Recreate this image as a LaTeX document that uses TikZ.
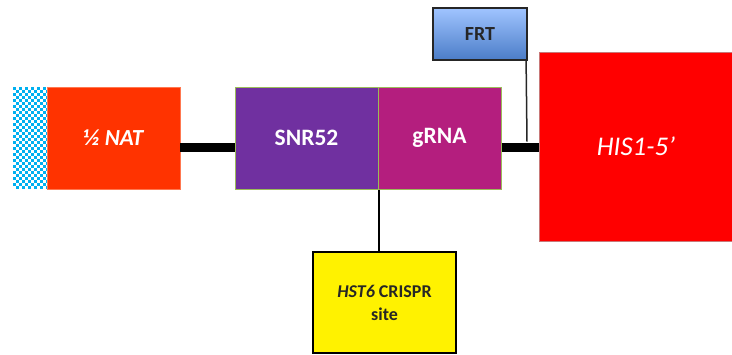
\documentclass[tikz,border=0pt]{standalone}
\usepackage{fontspec}
\setmainfont{Carlito}
\definecolor{chkblue}{RGB}{0,176,240}
\begin{document}
\begin{tikzpicture}[x=1pt,y=-1pt,
  blk/.style={rectangle,inner sep=0pt,anchor=center,align=center},
  bar/.style={line width=9pt,black},
  thin/.style={line width=1.5pt,black!85}]
\useasboundingbox (0,0) rectangle (732,354);
\begin{scope}
\clip (0,0) rectangle (732,354);
% checkered block
\node[blk,minimum width=34pt,minimum height=102pt,fill=white] (chk) at (30,138) {};
\foreach \i in {0,...,11}{
  \foreach \j in {0,...,33}{
    \pgfmathtruncatemacro\chkpar{mod(\i+\j,2)}
    \ifnum\chkpar=0
      \fill[chkblue] (13+3*\i,87+3*\j) rectangle ++(3,3);
    \fi
  }
}
\node[blk,minimum width=133pt,minimum height=102pt,fill={rgb,255:red,255;green,51;blue,0},draw={rgb,255:red,255;green,120;blue,80},line width=0.5pt,text=white,font=\fontsize{23}{27}\selectfont\bfseries\itshape] (nat) at (113.5,138) {½ NAT};
\node[blk,minimum width=143pt,minimum height=102pt,fill={rgb,255:red,112;green,48;blue,160},draw={rgb,255:red,155;green,187;blue,89},line width=1pt,text=white,font=\fontsize{23.5}{27}\selectfont\bfseries] (snr) at (306.5,138) {SNR52};
\node[blk,minimum width=123pt,minimum height=102pt,fill={rgb,255:red,180;green,30;blue,126},draw={rgb,255:red,155;green,187;blue,89},line width=1pt,text=white,font=\fontsize{23.5}{27}\selectfont\bfseries] (grna) at (439.5,138) {gRNA};
\node[blk,minimum width=94pt,minimum height=52pt,top color={rgb,255:red,160;green,196;blue,255},bottom color={rgb,255:red,75;green,125;blue,200},draw=black!85,line width=1.2pt,text=black!85,font=\fontsize{20}{24}\selectfont\bfseries] (frt) at (480,34) {FRT};
\node[blk,minimum width=194pt,minimum height=189pt,fill={rgb,255:red,255;green,0;blue,0},draw={rgb,255:red,200;green,120;blue,120},line width=0.6pt,text=white,font=\fontsize{27}{32}\selectfont\itshape] (his) at (636,146.5) {HIS1-5’};
\node[blk,minimum width=143pt,minimum height=101pt,fill=yellow,draw=black,line width=1.5pt,text=black!85,font=\fontsize{18}{23}\selectfont\bfseries] (hst) at (384.5,302.5) {\textit{HST6} CRISPR\\site};
% connectors
\draw[bar] ([yshift=-9.5pt]nat.east) -- ([yshift=-9.5pt]snr.west);
\draw[bar] ([yshift=-9.5pt]grna.east) -- ([yshift=-9.5pt]his.west |- grna.east);
\coordinate (frtend) at (527,141.5);
\draw[thin] ([xshift=-1.5pt]frt.south east) -- (frtend);
\draw[line width=2pt,black] (snr.south east) -- (hst.north -| snr.south east);
\end{scope}
\end{tikzpicture}
\end{document}
